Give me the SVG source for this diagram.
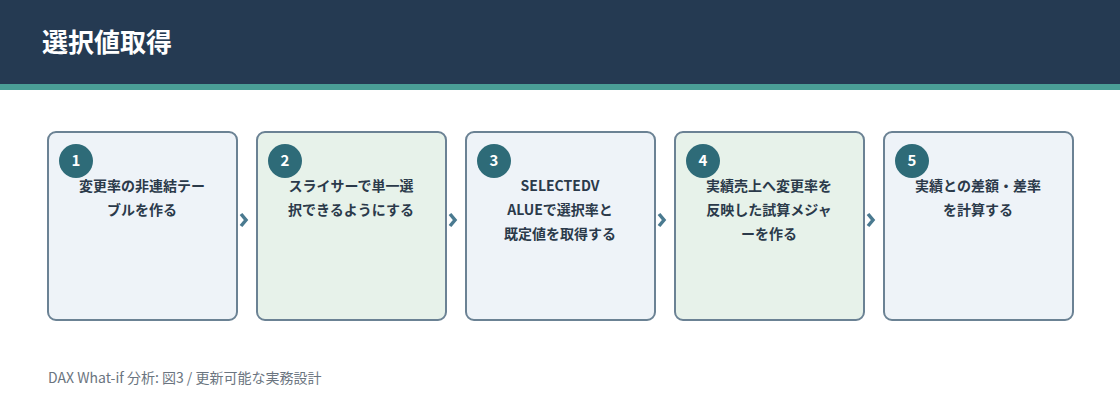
<svg xmlns="http://www.w3.org/2000/svg" width="1120" height="420" viewBox="0 0 1120 420">
<style>
text{font-family:"Noto Sans CJK JP","Noto Sans",sans-serif}
.box{stroke:#6b8294;stroke-width:2}
.b{fill:#eef3f8}.g{fill:#e7f2ea}
.c{fill:#2e6b78}
.n{fill:#fff;font-size:15px;font-weight:700;text-anchor:middle}
.t{fill:#2b3a4a;font-size:14px;font-weight:700;text-anchor:middle}
.ar{fill:none;stroke:#4a7a90;stroke-width:3.5}
</style>
<rect width="1120" height="420" fill="#fff"/>
<rect width="1120" height="84" fill="#253a52"/>
<rect y="84" width="1120" height="6" fill="#4a9e96"/>
<text x="42" y="52" fill="#fff" font-size="26" font-weight="700">選択値取得</text>
<g id="n1"><rect class="box b" x="48" y="132" width="189" height="188" rx="8"/><circle class="c" cx="76" cy="161" r="17"/><text class="n" x="76" y="166">1</text><text class="t" x="142" y="191">変更率の非連結テー</text><text class="t" x="142" y="215">ブルを作る</text></g>
<g id="n2"><rect class="box g" x="257" y="132" width="189" height="188" rx="8"/><circle class="c" cx="285" cy="161" r="17"/><text class="n" x="285" y="166">2</text><text class="t" x="351" y="191">スライサーで単一選</text><text class="t" x="351" y="215">択できるようにする</text></g>
<g id="n3"><rect class="box b" x="466" y="132" width="189" height="188" rx="8"/><circle class="c" cx="494" cy="161" r="17"/><text class="n" x="494" y="166">3</text><text class="t" x="560" y="191">SELECTEDV</text><text class="t" x="560" y="215">ALUEで選択率と</text><text class="t" x="560" y="239">既定値を取得する</text></g>
<g id="n4"><rect class="box g" x="675" y="132" width="189" height="188" rx="8"/><circle class="c" cx="703" cy="161" r="17"/><text class="n" x="703" y="166">4</text><text class="t" x="769" y="191">実績売上へ変更率を</text><text class="t" x="769" y="215">反映した試算メジャ</text><text class="t" x="769" y="239">ーを作る</text></g>
<g id="n5"><rect class="box b" x="884" y="132" width="189" height="188" rx="8"/><circle class="c" cx="912" cy="161" r="17"/><text class="n" x="912" y="166">5</text><text class="t" x="978" y="191">実績との差額・差率</text><text class="t" x="978" y="215">を計算する</text></g>
<g id="connectors">
<path class="ar" d="M241 214l5 6-5 6"/>
<path class="ar" d="M450 214l5 6-5 6"/>
<path class="ar" d="M659 214l5 6-5 6"/>
<path class="ar" d="M868 214l5 6-5 6"/>
</g>
<text x="48" y="383" fill="#6b7580" font-size="14">DAX What-if 分析: 図3 / 更新可能な実務設計</text>
</svg>
